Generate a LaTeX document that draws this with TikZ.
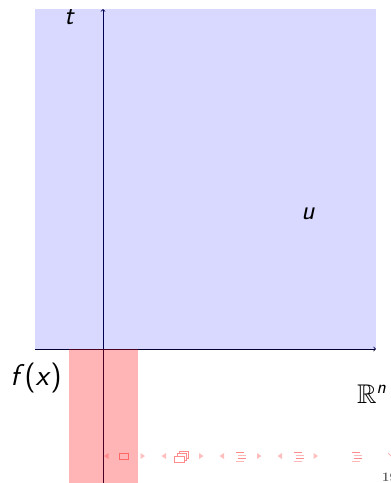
\documentclass[tikz,border=0pt]{standalone}
\usepackage{amssymb}
\begin{document}
\begin{tikzpicture}[x=1pt,y=-1pt,
  axisline/.style={black!80!blue, line width=0.8pt, ->},
  lbl/.style={inner sep=0pt, font=\fontsize{27}{32}\selectfont\sffamily\itshape},
  navtri/.style={fill=red!25, draw=none},
  navln/.style={draw=red!45, line width=0.9pt},
  navln2/.style={draw=red!28, line width=0.9pt}]
\useasboundingbox (0,0) rectangle (391,483);
% axes
\coordinate (ytop) at (103,9);
\coordinate (ybot) at (103,490);
\coordinate (xl) at (35,349);
\coordinate (xr) at (376,349);
\draw[axisline] (ybot) -- (ytop);
\draw[axisline] (xl) -- (xr);
% regions
\fill[blue, fill opacity=0.15] (35,9) rectangle (376,349);
\fill[red, fill opacity=0.29] (69,349) rectangle (138,490);
% labels
\node[lbl, anchor=base] (t) at (69,24) {t};
\node[lbl, anchor=base] (u) at (308,219) {u};
\node[lbl, anchor=base, font=\fontsize{30}{36}\selectfont\sffamily] (f) at (36,385) {\textit{f}(\textit{x})};
\node[inner sep=0pt, anchor=base west, font=\fontsize{27}{32}\selectfont] (R) at (357,403)
  {$\mathbb{R}^{\mbox{\fontsize{19}{20}\selectfont\sffamily\itshape n}}$};
% navigation symbols
\fill[red!45] (104,456) -- (108.5,453) -- (108.5,459) -- cycle;
\draw[navln, draw=red!60] (119.5,453.5) rectangle (128.5,459);
\fill[navtri] (145,456) -- (140.5,453) -- (140.5,459) -- cycle;
\fill[navtri] (161.5,456) -- (166,453) -- (166,459) -- cycle;
\draw[navln, fill=white] (179,451.5) rectangle (188.5,458);
\draw[navln, fill=white] (177,453.5) rectangle (186.5,460);
\draw[navln, fill=white] (174.5,456) rectangle (184,462.5);
\fill[navtri] (203.5,456) -- (199,453) -- (199,459) -- cycle;
\fill[navtri] (219.5,456) -- (224,453) -- (224,459) -- cycle;
\foreach \cx in {240.5,298.5,356.5}{
  \draw[navln] (\cx-5,452.5) -- (\cx+3,452.5);
  \draw[navln2] (\cx-3,455.5) -- (\cx+5,455.5);
  \draw[navln] (\cx-3,458.5) -- (\cx+5,458.5);
  \draw[navln2] (\cx-5,461.5) -- (\cx+3,461.5);
}
\fill[navtri] (261.5,456) -- (257,453) -- (257,459) -- cycle;
\fill[navtri] (277.5,456) -- (282,453) -- (282,459) -- cycle;
\fill[navtri] (318,456) -- (313.5,453) -- (313.5,459) -- cycle;
\draw[navln2] (388,453) -- (391,456);
\node[inner sep=0pt, anchor=base west, text=black!65, font=\fontsize{13}{14}\selectfont\bfseries] (pg) at (382,481) {19};
\end{tikzpicture}
\end{document}
